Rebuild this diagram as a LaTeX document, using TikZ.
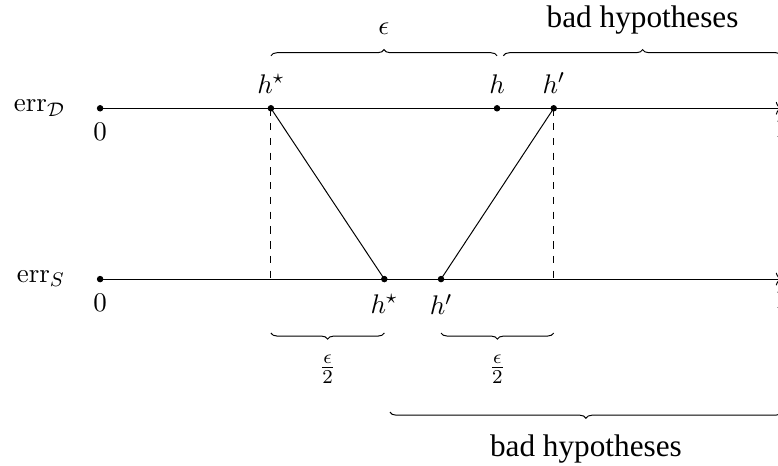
\documentclass[tikz,border=0pt,11pt]{standalone}
\usepackage{amsmath,amssymb}
\usepackage[no-math]{fontspec}
\newfontfamily\hypfont{Liberation Serif}
\usetikzlibrary{arrows.meta,positioning,calc,decorations.pathreplacing}
\tikzset{
  dotn/.style={draw, circle, fill=black, minimum size=2.2pt, inner sep=0pt},
  axisline/.style={->},
  cutline/.style={dashed},
  bracetop/.style={decorate, decoration={brace}},
  bracebot/.style={decorate, decoration={brace, mirror}},
  badtext/.style={font=\hypfont\fontsize{12.7}{15}\selectfont},
}

\begin{document}
\begin{tikzpicture}[label distance=1pt]
  \useasboundingbox (0,0) rectangle (11.114,6.657);

  % true error axis
  \node[dotn, label={below:$0$}]        (D0)     at (1.43,5.11) {};
  \node[dotn, label={above:$h^\star$}]  (Dstar)  at (3.87,5.11) {};
  \node[dotn, label={above:$h$}]        (Dh)     at (7.10,5.11) {};
  \node[dotn, label={above:$h'$}]       (Dprime) at (7.91,5.11) {};
  \coordinate[label={below:$1$}]        (Dend)   at (11.17,5.11);
  \node[left=0.32cm of D0] (Dname) {$\mathrm{err}_{\mathcal{D}}$};

  % sample error axis
  \node[dotn, label={below:$0$}]        (S0)     at (1.43,2.67) {};
  \node[dotn, label={below:$h^\star$}]  (Sstar)  at (5.49,2.67) {};
  \node[dotn, label={below:$h'$}]       (Sprime) at (6.30,2.67) {};
  \coordinate[label={below:$1$}]        (Send)   at (11.17,2.67);
  \coordinate (Scut1) at (3.87,2.67);
  \coordinate (Scut2) at (7.91,2.67);
  \node[left=0.32cm of S0] (Sname) {$\mathrm{err}_{S}$};

  \draw[axisline] (D0.center) -- (Dend);
  \draw[axisline] (S0.center) -- (Send);
  \draw (Dstar.center) -- (Sstar.center);
  \draw (Sprime.center) -- (Dprime.center);
  \draw[cutline] (Dstar.center) -- (Scut1);
  \draw[cutline] (Dprime.center) -- (Scut2);

  % braces
  \draw[bracetop] ($(Dstar)+(0,0.75)$) -- ($(Dh)+(0,0.75)$)
    node[midway, above=5pt] {$\epsilon$};
  \draw[bracetop] ($(Dh)+(0.09,0.75)$) -- ($(Dend)+(0,0.75)$)
    node[midway, above=5pt, badtext] {bad hypotheses};
  \draw[bracebot] ($(Scut1)+(0,-0.77)$) -- ($(Sstar)+(0,-0.77)$)
    node[midway, below=5pt] {$\frac{\epsilon}{2}$};
  \draw[bracebot] ($(Sprime)+(0,-0.77)$) -- ($(Scut2)+(0,-0.77)$)
    node[midway, below=5pt] {$\frac{\epsilon}{2}$};
  \draw[bracebot] ($(Sstar)+(0.08,-1.90)$) -- ($(Send)+(0,-1.90)$)
    node[midway, below=5.5pt, badtext] {bad hypotheses};
\end{tikzpicture}
\end{document}
